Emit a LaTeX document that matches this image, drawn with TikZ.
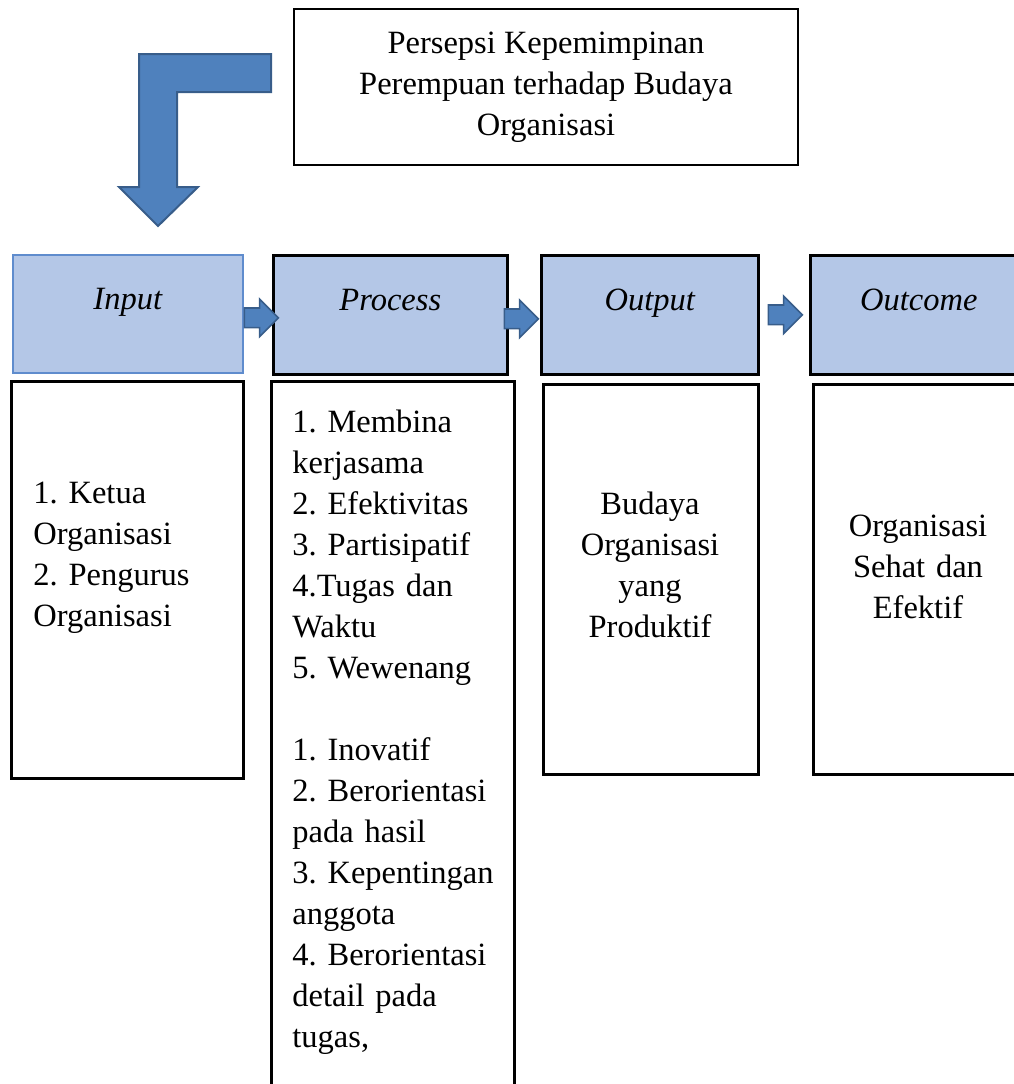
\documentclass[tikz,border=0pt]{standalone}
\usepackage{fontspec}
\setmainfont{Liberation Serif}
\usepackage{xcolor}
\usetikzlibrary{positioning,shapes.arrows}
\definecolor{kotakbiru}{RGB}{180,199,231}
\definecolor{panahisi}{RGB}{79,129,189}
\definecolor{panahtepi}{RGB}{56,93,138}
\definecolor{tepiinput}{RGB}{95,140,205}
\newcommand{\teks}{\fontsize{16.25pt}{20.5pt}\selectfont\frenchspacing}

\tikzset{
    kepala/.style = {rectangle, draw=black, line width=1.3pt, fill=kotakbiru, anchor=north west,
        inner sep=0pt, minimum height=59pt, font=\teks\itshape, text height=11pt, text depth=15.5pt},
    isian/.style = {rectangle, draw=black, line width=1.3pt, anchor=north west, inner sep=0pt},
    tulisan/.style = {font=\teks, inner sep=0pt},
    panah/.style = {single arrow, fill=panahisi, draw=panahtepi, line width=0.8pt, inner xsep=0pt,
        inner ysep=4.5pt, minimum height=17pt, single arrow head extend=4.5pt},
    panahbelok/.style = {fill=panahisi, draw=panahtepi, line width=1pt, line join=miter}
}

\begin{document}
\begin{tikzpicture}[x=0.5pt, y=-0.5pt]
    \useasboundingbox (0,0) rectangle (1014,1084);
    \clip (0,0) rectangle (1014,1084);

    % judul
    \node[isian, anchor=center, minimum width=252pt, minimum height=78pt, font=\teks, align=center]
        (judul) at (546,87) {Persepsi Kepemimpinan\\Perempuan terhadap Budaya\\Organisasi};
    \draw[panahbelok] (271,54) -- (139,54) -- (139,187) -- (119,187) -- (158,226)
        -- (198,187) -- (177,187) -- (177,92) -- (271,92) -- cycle;

    % kepala
    \node[kepala, draw=tepiinput, line width=0.8pt, minimum width=115pt] (inhd) at (12,254) {Input};
    \node[kepala, minimum width=117pt, minimum height=59.5pt] (prhd) at (272,254) {Process};
    \node[kepala, minimum width=108.5pt, minimum height=59.5pt] (outhd) at (540,254) {Output};
    \node[kepala, minimum width=108.5pt, minimum height=59.5pt] (ochd) at (809,254) {Outcome};

    \node[panah, right=0pt of inhd, yshift=-2pt] (a1) {};
    \node[panah, right=-2.5pt of prhd, yshift=-2pt] (a2) {};
    \node[panah, right=4pt of outhd] (a3) {};

    % isian
    \node[isian, minimum width=116pt, minimum height=198.5pt] (inbox) at (10,380) {};
    \node[isian, minimum width=121.5pt, minimum height=360pt] (prbox) at (270,380) {};
    \node[isian, minimum width=107.5pt, minimum height=195pt] (outbox) at (542,383) {};
    \node[isian, minimum width=106pt, minimum height=195pt] (ocbox) at (812,383) {};

    \node[tulisan, text width=100pt, align=left, anchor=base west] (intext) at (33,503)
        {1. Ketua\\Organisasi\\2. Pengurus\\Organisasi};
    \node[tulisan, text width=105pt, align=left, anchor=base west] (prtext) at (292,432)
        {1. Membina\\kerjasama\\2. Efektivitas\\3. Partisipatif\\4.Tugas dan\\Waktu\\5. Wewenang\\[20.5pt]
         1. Inovatif\\2. Berorientasi\\pada hasil\\3. Kepentingan\\anggota\\4. Berorientasi\\detail pada\\tugas,};
    \node[tulisan, text width=100pt, align=center, anchor=base] (outtext) at (650,514)
        {Budaya\\Organisasi\\yang\\Produktif};
    \node[tulisan, text width=100pt, align=center, anchor=base] (octext) at (918,536)
        {Organisasi\\Sehat dan\\Efektif};
\end{tikzpicture}
\end{document}
